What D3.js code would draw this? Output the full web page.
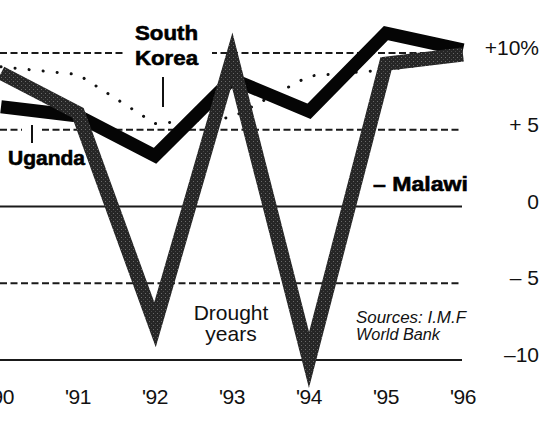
<!DOCTYPE html>
<meta charset="utf-8">
<style>
body {
  margin: 0;
  background: #fff;
}
svg {
  display: block;
  font-family: "Liberation Sans", Arial, sans-serif;
}
</style>
<body>
<script src="https://d3js.org/d3.v7.min.js"></script>
<script>
// GDP growth, % a year
var years = [1990, 1991, 1992, 1993, 1994, 1995, 1996];
var yearLabels = ["'90", "'91", "'92", "'93", "'94", "'95", "'96"];
var malawi = [8.7, 6.1, -7.7, 9.6, -10.0, 9.3, 9.9];
var uganda = [6.5, 5.9, 3.3, 8.3, 6.2, 11.3, 10.2];
var southKorea = [9.1, 8.6, 5.4, 5.8, 8.5, 8.9, 9.6];
var gridValues = [10, 5, 0, -5, -10];
var gridLabels = ["+10%", "+ 5", "0", "\u2013 5", "\u201310"];
var dashed = [10, 5, -5];

var width = 552, height = 423;
var svg = d3.select("body").append("svg")
    .attr("width", width).attr("height", height);

// stipple for the grey Malawi band
var pat = svg.append("defs").append("pattern")
    .attr("id", "stipple").attr("patternUnits", "userSpaceOnUse")
    .attr("width", 4).attr("height", 4);
pat.append("rect").attr("width", 4).attr("height", 4).style("fill", "#262626");
pat.append("rect").attr("x", 1).attr("y", 1).attr("width", 1).attr("height", 1).style("fill", "#6a6a6a");
pat.append("rect").attr("x", 3).attr("y", 3).attr("width", 1).attr("height", 1).style("fill", "#4a4a4a");

var x = d3.scaleLinear().domain([1990, 1996]).range([1, 463]);
var y = d3.scaleLinear().domain([-10, 10]).range([360, 53]);

// grid lines
svg.selectAll(".grid").data(gridValues).enter().append("line")
    .attr("x1", 0).attr("x2", x(1996) - 1)
    .attr("y1", function(d){ return y(d); })
    .attr("y2", function(d){ return y(d); })
    .style("stroke", "#1a1a1a")
    .style("stroke-width", function(d){ return dashed.indexOf(d) >= 0 ? 2.2 : 2; })
    .style("stroke-dasharray", function(d){ return dashed.indexOf(d) >= 0 ? "7,3.5" : null; });

// right hand scale
svg.selectAll(".ylab").data(gridValues).enter().append("text")
    .attr("x", 539).attr("y", function(d){ return y(d) + 2; })
    .attr("text-anchor", "end")
    .style("font-size", "21px")
    .style("fill", "#111")
    .text(function(d, i){ return gridLabels[i]; });

// year labels
svg.selectAll(".xlab").data(years).enter().append("text")
    .attr("x", function(d){ return x(d); }).attr("y", 404)
    .attr("text-anchor", "middle")
    .style("font-size", "21px")
    .style("letter-spacing", "-0.5px")
    .style("fill", "#111")
    .text(function(d, i){ return yearLabels[i]; });

// gaps in the grid for the labels
svg.append("rect").attr("x", 126).attr("y", 18).attr("width", 86).attr("height", 52).style("fill", "#fff");
svg.append("rect").attr("x", 22).attr("y", 124).attr("width", 18).attr("height", 10).style("fill", "#fff");

var line = d3.line()
    .x(function(d, i){ return x(years[i]); })
    .y(function(d){ return y(d); });

svg.append("path").datum(southKorea)
    .attr("d", line)
    .style("fill", "none")
    .style("stroke", "#111")
    .style("stroke-width", 3)
    .style("stroke-linecap", "round")
    .style("stroke-dasharray", "0.1,14");

svg.append("path").datum(uganda)
    .attr("d", line)
    .style("fill", "none")
    .style("stroke", "#050505")
    .style("stroke-width", 13)
    .style("stroke-linejoin", "miter")
    .style("stroke-miterlimit", 10);

svg.append("path").datum(malawi)
    .attr("d", line)
    .style("fill", "none")
    .style("stroke", "url(#stipple)")
    .style("stroke-width", 14)
    .style("stroke-linejoin", "miter")
    .style("stroke-miterlimit", 10);

// series labels
function bold(txt, px, py, len) {
  svg.append("text")
      .attr("x", px).attr("y", py)
      .attr("textLength", len).attr("lengthAdjust", "spacingAndGlyphs")
      .style("font-size", "21px")
      .style("font-weight", "bold")
      .style("fill", "#000")
      .style("stroke", "#000")
      .style("stroke-width", 0.6)
      .text(txt);
}
bold("South", 135, 40, 63);
bold("Korea", 135, 65, 63);
bold("Uganda", 8, 165, 77);
bold("\u2013 Malawi", 373, 191, 95);

svg.append("line").attr("x1", 163).attr("x2", 163).attr("y1", 77).attr("y2", 107)
    .style("stroke", "#111").style("stroke-width", 2);
svg.append("line").attr("x1", 32).attr("x2", 32).attr("y1", 125).attr("y2", 143)
    .style("stroke", "#111").style("stroke-width", 2);

// notes
svg.append("text").attr("x", 231).attr("y", 320).attr("text-anchor", "middle")
    .style("font-size", "21px").style("fill", "#111").text("Drought");
svg.append("text").attr("x", 231).attr("y", 341).attr("text-anchor", "middle")
    .style("font-size", "21px").style("fill", "#111").text("years");

svg.append("text").attr("x", 356).attr("y", 323)
    .attr("textLength", 110).attr("lengthAdjust", "spacingAndGlyphs")
    .style("font-size", "16px").style("font-style", "italic").style("fill", "#111")
    .text("Sources: I.M.F");
svg.append("text").attr("x", 356).attr("y", 340)
    .attr("textLength", 84).attr("lengthAdjust", "spacingAndGlyphs")
    .style("font-size", "16px").style("font-style", "italic").style("fill", "#111")
    .text("World Bank");
</script>
